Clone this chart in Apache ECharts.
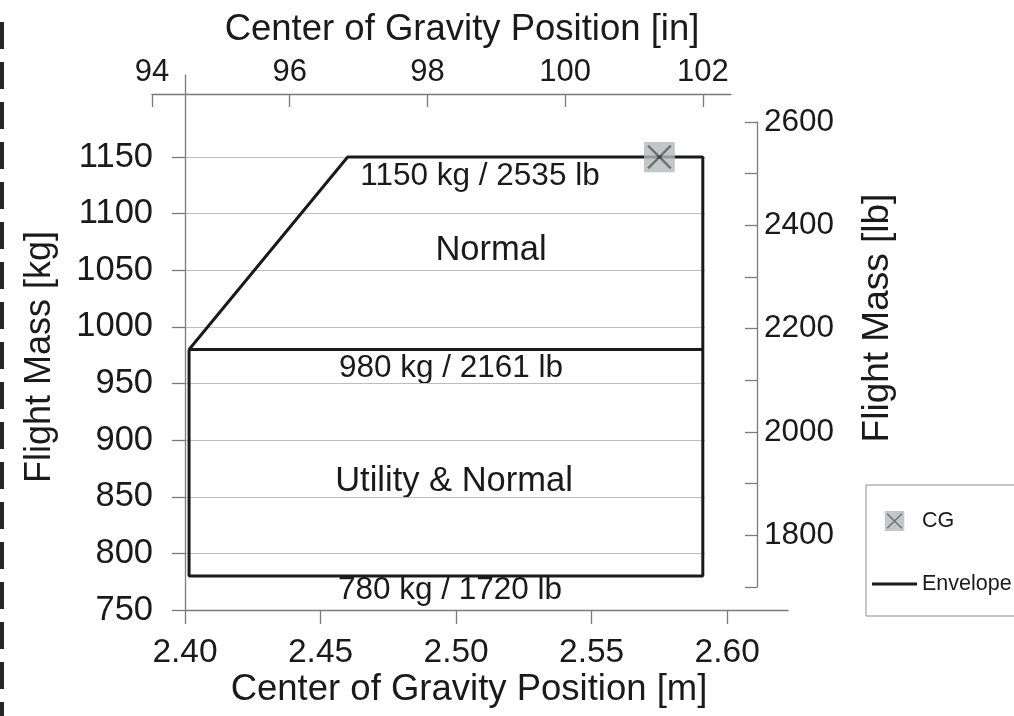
<!DOCTYPE html>
<html>
<head>
<meta charset="utf-8">
<title>Flight Mass vs. Center of Gravity</title>
<script src="https://cdn.jsdelivr.net/npm/echarts@6/dist/echarts.min.js"></script>
<style>
  html, body { margin: 0; padding: 0; background: #ffffff; }
  #chart { width: 1014px; height: 716px; }
</style>
</head>
<body>
<div id="chart"></div>
<script>
// Tick values of the four axes
const xTicksM = [2.40, 2.45, 2.50, 2.55, 2.60];
const xTicksIn = [94, 96, 98, 100, 102];
const yTicksKg = [750, 800, 850, 900, 950, 1000, 1050, 1100, 1150];
const yTicksLb = [1800, 2000, 2200, 2400, 2600];

// Envelope outline (CG position in m, flight mass in kg), drawn as one polyline
const envelopeCgM = [2.591, 2.4015, 2.46, 2.591, 2.591, 2.4015, 2.4015];
const envelopeMassKg = [980, 980, 1150, 1150, 780, 780, 980];

// Current centre of gravity
const cgM = [2.575];
const cgKg = [1150];

// Mass limits, kg and lb
const limitKg = [1150, 980, 780];
const limitLb = [2535, 2161, 1720];

// Category names inside the envelope
const categoryNames = ['Normal', 'Utility & Normal'];

const FONT = '"Liberation Sans", Arial, "DejaVu Sans", sans-serif';
const TEXT = '#1a1a1a';
const AXIS = '#7a7a7a';
const GRID = '#bdbdbd';

const cgSvg = "<svg xmlns='http://www.w3.org/2000/svg' width='30' height='30'>" +
  "<rect x='0' y='0' width='30' height='30' fill='#b3bbba'/>" +
  "<path d='M4 4L26 26M26 4L4 26' stroke='#465050' stroke-width='2.2' fill='none'/></svg>";
const cgIcon = 'image://data:image/svg+xml;charset=utf-8,' + encodeURIComponent(cgSvg);
// plain horizontal bar used as the envelope's legend key
const lineIcon = 'path://M0,0H45V3H0Z';

const chart = echarts.init(document.getElementById('chart'), null, { renderer: 'canvas' });

const tickLabel = (size) => ({ color: TEXT, fontFamily: FONT, fontSize: size });
const plain = v => String(v);

const option = {
  backgroundColor: '#ffffff',
  animation: false,
  grid: [
    // plot area (m / kg)
    { left: 185, top: 75, width: 520, height: 535 },
    // bottom metre axis
    { left: 185, top: 600, width: 603, height: 10 },
    // top inch axis
    { left: 152, top: 94, width: 579, height: 10 },
    // right pound axis
    { left: 747, top: 122, width: 10, height: 465 }
  ],
  xAxis: [
    { gridIndex: 0, type: 'value', min: 2.40, max: 2.40 + 520 / 2711, show: false },
    {
      gridIndex: 1, type: 'value', position: 'bottom', min: 2.40, max: 2.40 + 603 / 2711,
      axisLine: { onZero: false, lineStyle: { color: AXIS, width: 1.3 } },
      axisTick: { length: 14, inside: false, customValues: xTicksM, lineStyle: { color: AXIS, width: 1.3 } },
      axisLabel: Object.assign(tickLabel(33.5), { customValues: xTicksM, margin: 26, formatter: v => v.toFixed(2) }),
      splitLine: { show: false }
    },
    {
      gridIndex: 2, type: 'value', position: 'top', min: 94, max: 94 + 579 / 68.86,
      axisLine: { onZero: false, lineStyle: { color: AXIS, width: 1.3 } },
      axisTick: { length: 13, inside: true, customValues: xTicksIn, lineStyle: { color: AXIS, width: 1.3 } },
      axisLabel: Object.assign(tickLabel(31), { customValues: xTicksIn, margin: 6, formatter: plain }),
      splitLine: { show: false }
    },
    { gridIndex: 3, type: 'value', min: 0, max: 1, show: false }
  ],
  yAxis: [
    {
      gridIndex: 0, type: 'value', position: 'left', min: 750, max: 750 + 535 / 1.1325,
      axisLine: { show: true, onZero: false, lineStyle: { color: AXIS, width: 1.3 } },
      axisTick: { show: true, length: 13, customValues: yTicksKg, lineStyle: { color: AXIS, width: 1.3 } },
      axisLabel: Object.assign(tickLabel(34.5), { customValues: yTicksKg, margin: 32, formatter: plain }),
      splitLine: { show: true, lineStyle: { color: GRID, width: 1.2 } }
    },
    { gridIndex: 1, type: 'value', min: 0, max: 1, show: false },
    { gridIndex: 2, type: 'value', min: 0, max: 1, show: false },
    {
      gridIndex: 3, type: 'value', position: 'right', min: 1700, max: 2600, interval: 100,
      axisLine: { show: true, onZero: false, lineStyle: { color: AXIS, width: 1.3 } },
      axisTick: { show: true, inside: true, length: 12, lineStyle: { color: AXIS, width: 1.3 } },
      axisLabel: Object.assign(tickLabel(31.5), { customValues: yTicksLb, margin: 7, formatter: plain }),
      splitLine: { show: false }
    }
  ],
  legend: {
    orient: 'vertical',
    left: 866,
    top: 485,
    padding: [25, 30, 21, 6],
    itemGap: 41,
    itemWidth: 45,
    itemHeight: 20,
    borderColor: '#8d8d8d',
    borderWidth: 1,
    textStyle: { color: TEXT, fontFamily: FONT, fontSize: 21.5 },
    data: [
      { name: 'CG', icon: cgIcon },
      { name: 'Envelope', icon: lineIcon }
    ]
  },
  series: [
    {
      name: 'Envelope',
      type: 'line',
      xAxisIndex: 0,
      yAxisIndex: 0,
      symbol: 'none',
      clip: false,
      lineStyle: { color: '#1a1a1a', width: 3 },
      itemStyle: { color: '#1a1a1a' },
      data: envelopeCgM.map((x, i) => [x, envelopeMassKg[i]]),
      z: 3
    },
    {
      name: 'CG',
      type: 'scatter',
      xAxisIndex: 0,
      yAxisIndex: 0,
      symbol: cgIcon,
      symbolSize: 31,
      itemStyle: { color: '#b3bbba' },
      data: cgM.map((x, i) => [x, cgKg[i]]),
      z: 4
    }
  ],
  graphic: [
    // dashed edge line
    {
      type: 'line', shape: { x1: 2, y1: 22, x2: 2, y2: 716 },
      style: { stroke: '#262626', lineWidth: 4, lineDash: [27, 13] }
    },
    // axis titles
    {
      type: 'text', x: 462, y: 30,
      style: { text: 'Center of Gravity Position [in]', align: 'center', verticalAlign: 'middle', fill: TEXT, font: '36.5px ' + FONT }
    },
    {
      type: 'text', x: 469, y: 690,
      style: { text: 'Center of Gravity Position [m]', align: 'center', verticalAlign: 'middle', fill: TEXT, font: '36.5px ' + FONT }
    },
    {
      type: 'text', x: 40, y: 357, rotation: Math.PI / 2,
      style: { text: 'Flight Mass [kg]', align: 'center', verticalAlign: 'middle', fill: TEXT, font: '36px ' + FONT }
    },
    {
      type: 'text', x: 878, y: 318, rotation: Math.PI / 2,
      style: { text: 'Flight Mass [lb]', align: 'center', verticalAlign: 'middle', fill: TEXT, font: '37px ' + FONT }
    },
    // limit and category annotations inside the envelope
    {
      type: 'text', x: 480, y: 176,
      style: { text: limitKg[0] + ' kg / ' + limitLb[0] + ' lb', align: 'center', verticalAlign: 'middle', fill: TEXT, font: '31.5px ' + FONT }
    },
    {
      type: 'text', x: 491, y: 250,
      style: { text: categoryNames[0], align: 'center', verticalAlign: 'middle', fill: TEXT, font: '34.5px ' + FONT }
    },
    {
      type: 'text', x: 451, y: 368,
      style: { text: limitKg[1] + ' kg / ' + limitLb[1] + ' lb', align: 'center', verticalAlign: 'middle', fill: TEXT, font: '31.5px ' + FONT }
    },
    {
      type: 'text', x: 454, y: 481,
      style: { text: categoryNames[1], align: 'center', verticalAlign: 'middle', fill: TEXT, font: '34.5px ' + FONT }
    },
    {
      type: 'text', x: 450, y: 590,
      style: { text: limitKg[2] + ' kg / ' + limitLb[2] + ' lb', align: 'center', verticalAlign: 'middle', fill: TEXT, font: '31.5px ' + FONT }
    }
  ]
};

chart.setOption(option);
</script>
</body>
</html>
